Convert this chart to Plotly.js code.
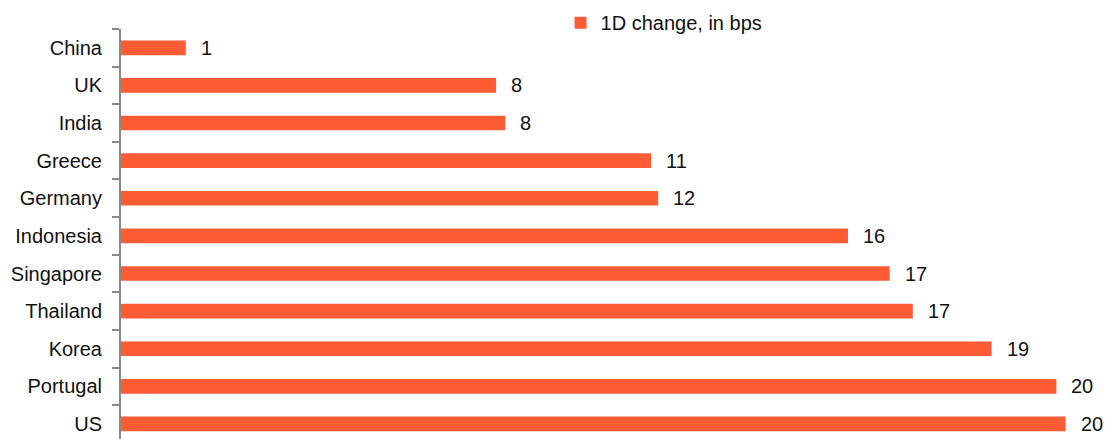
<!DOCTYPE html>
<html><head><meta charset="utf-8">
<script src="https://cdn.plot.ly/plotly-3.0.1.min.js"></script>
<style>html,body{margin:0;padding:0;background:#fff}#chart{width:1105px;height:439px}</style>
</head><body><div id="chart"></div>
<script>
const categories = ["China","UK","India","Greece","Germany","Indonesia","Singapore","Thailand","Korea","Portugal","US"];
const values = [1.4, 8.1, 8.3, 11.45, 11.6, 15.7, 16.6, 17.1, 18.8, 20.2, 20.4];
const valueLabels = ["1","8","8","11","12","16","17","17","19","20","20"];
const seriesName = "1D change, in bps";

const FONT = '"Liberation Sans", Arial, sans-serif';
const barColor = '#FF5C36';

const trace = {
  type: 'bar', orientation: 'h',
  x: values, y: categories, name: seriesName,
  marker: {color: barColor},
  width: 0.39,
  hoverinfo: 'x+y'
};

const annotations = categories.map((c, i) => ({
  x: values[i], y: c, xref: 'x', yref: 'y',
  text: valueLabels[i], showarrow: false,
  xanchor: 'left', yanchor: 'middle', xshift: 13,
  font: {family: FONT, size: 20, color: '#111'}
}));

const layout = {
  width: 1105, height: 439,
  margin: {l: 121, r: 0, t: 29, b: 0, pad: 0},
  paper_bgcolor: '#fff', plot_bgcolor: '#fff',
  showlegend: true,
  legend: {x: 0.4467, y: 1.063, xanchor: 'left', yanchor: 'top', orientation: 'h',
           font: {family: FONT, size: 20, color: '#111'}, bgcolor: 'rgba(0,0,0,0)'},
  xaxis: {range: [0, 21.25], showgrid: false, zeroline: false, showticklabels: false,
          ticks: '', showline: false, fixedrange: true},
  yaxis: {type: 'category', categoryorder: 'array', categoryarray: categories,
          range: [10.4, -0.5], showgrid: false, zeroline: false,
          showline: true, linecolor: '#8a8a8a', linewidth: 2,
          ticks: 'outside', tickson: 'boundaries', ticklen: 7, tickwidth: 2, tickcolor: '#8a8a8a',
          ticklabelstandoff: 13,
          tickfont: {family: FONT, size: 20, color: '#111'}},
  annotations: annotations
};

Plotly.newPlot('chart', [trace], layout, {displayModeBar: false, staticPlot: true});
</script>
</body></html>
